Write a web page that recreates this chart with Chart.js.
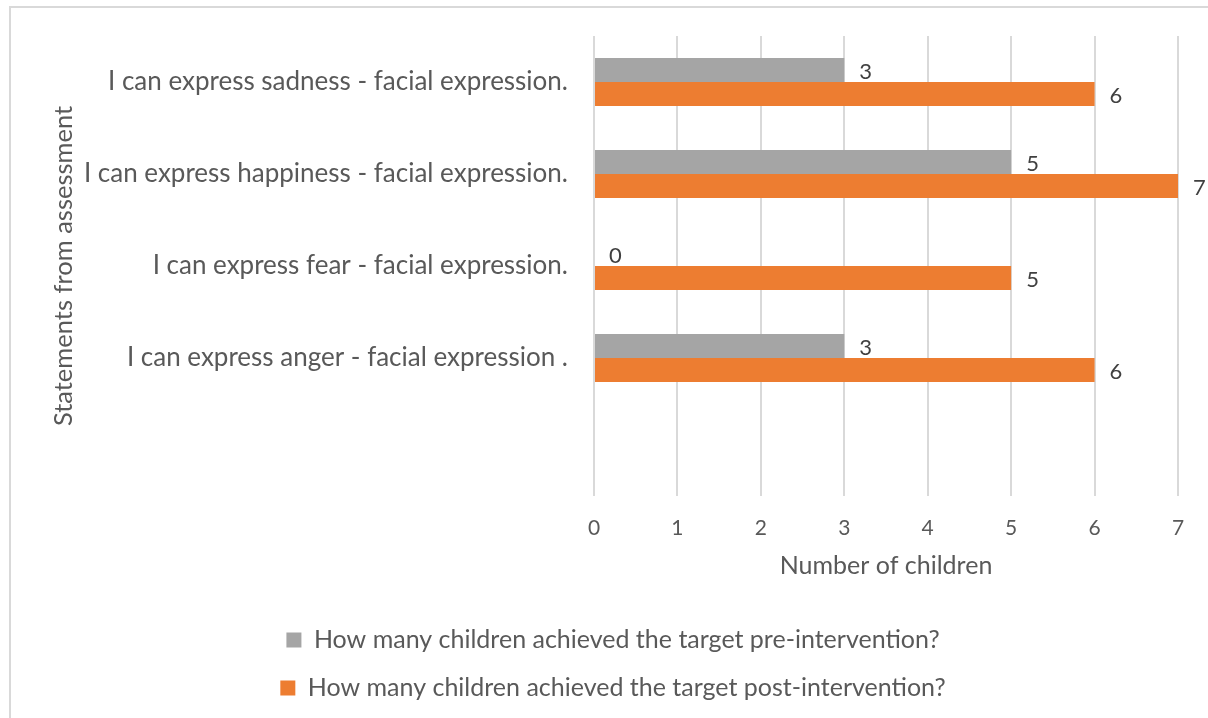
<!DOCTYPE html>
<html>
<head>
<meta charset="utf-8">
<script src="https://cdn.jsdelivr.net/npm/chart.js@4.4.0/dist/chart.umd.min.js"></script>
<style>
    html, body { margin: 0; padding: 0; background: #fff; }
    #wrap { width: 1208px; height: 718px; }
</style>
</head>
<body>
<div id="wrap"><canvas id="kidsChart" width="1208" height="718"></canvas></div>
<script>
// data
const statements = [
    'I can express sadness - facial expression.',
    'I can express happiness - facial expression.',
    'I can express fear - facial expression.',
    'I can express anger - facial expression .',
    ''
];
const preIntervention = [3, 5, 0, 3, null];
const postIntervention = [6, 7, 5, 6, null];
const xTicks = [0, 1, 2, 3, 4, 5, 6, 7];

Chart.defaults.font.family = 'Lato, "Open Sans", sans-serif';
Chart.defaults.color = '#595959';

// frame around the whole chart
const frame = {
    id: 'frame',
    beforeDraw(chart) {
        const ctx = chart.ctx;
        ctx.save();
        ctx.fillStyle = '#fff';
        ctx.fillRect(0, 0, chart.width, chart.height);
        ctx.strokeStyle = '#d9d9d9';
        ctx.lineWidth = 2;
        ctx.strokeRect(10, 7, chart.width + 20, chart.height + 20);
        ctx.restore();
    }
};

// value next to the end of every bar
const barValues = {
    id: 'barValues',
    afterDatasetsDraw(chart) {
        const ctx = chart.ctx;
        ctx.save();
        ctx.font = '22px Lato';
        ctx.fillStyle = '#404040';
        ctx.textAlign = 'left';
        ctx.textBaseline = 'middle';
        chart.data.datasets.forEach((ds, i) => {
            chart.getDatasetMeta(i).data.forEach((bar, j) => {
                const v = ds.data[j];
                if (v === null || v === undefined) return;
                ctx.fillText(String(v), bar.x + 15, bar.y + 2);
            });
        });
        ctx.restore();
    }
};

const kidsChart = new Chart(document.getElementById('kidsChart'), {
    type: 'bar',
    data: {
        labels: statements,
        datasets: [{
            label: 'How many children achieved the target pre-intervention?',
            data: preIntervention,
            backgroundColor: '#a5a5a5'
        }, {
            label: 'How many children achieved the target post-intervention?',
            data: postIntervention,
            backgroundColor: '#ed7d31'
        }]
    },
    options: {
        indexAxis: 'y',
        responsive: false,
        animation: false,
        categoryPercentage: 0.52,
        barPercentage: 1,
        layout: {
            padding: { top: 36, left: 48, right: 30, bottom: 7.5 }
        },
        scales: {
            x: {
                min: xTicks[0],
                max: xTicks[xTicks.length - 1],
                afterBuildTicks(scale) {
                    scale.ticks = xTicks.map(v => ({ value: v }));
                },
                afterFit(scale) { scale.height = 108.5; },
                grid: { color: '#d9d9d9', lineWidth: 2, drawTicks: false },
                border: { display: false },
                ticks: { padding: 20, font: { size: 21 }, color: '#595959' },
                title: {
                    display: true,
                    text: 'Number of children',
                    font: { size: 25 },
                    padding: { top: 0, bottom: 23.5 }
                }
            },
            y: {
                afterFit(scale) {
                    scale.width = 546;
                    scale.paddingTop = 0;
                    scale.paddingBottom = 0;
                },
                grid: { display: false, drawTicks: false },
                border: { display: false },
                ticks: { padding: 26, font: { size: 26 }, color: '#595959' },
                title: {
                    display: true,
                    text: 'Statements from assessment',
                    font: { size: 25.5 },
                    padding: { top: 0, bottom: 0 }
                }
            }
        },
        plugins: {
            legend: {
                position: 'bottom',
                labels: {
                    boxWidth: 15,
                    boxHeight: 15,
                    padding: 23,
                    font: { size: 25 },
                    color: '#595959'
                }
            },
            tooltip: { enabled: false }
        }
    },
    plugins: [frame, barValues]
});
</script>
</body>
</html>
